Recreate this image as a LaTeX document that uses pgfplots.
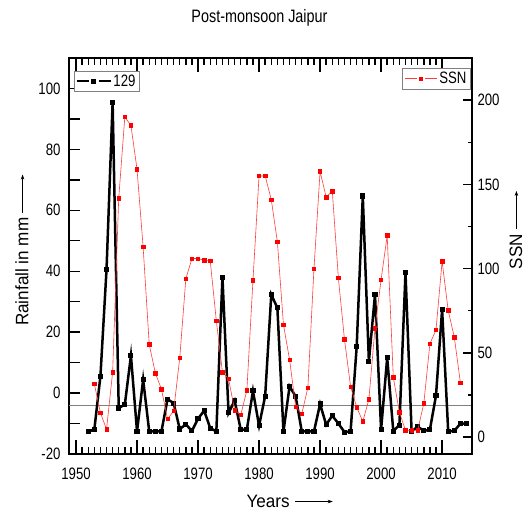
\documentclass[border=0pt]{standalone}
\usepackage{fontspec}
\setmainfont{Liberation Sans}[FakeStretch=0.8]
\newfontfamily\labelfont{Liberation Sans}[FakeStretch=0.95]
\usepackage{pgfplots}
\usepackage{pgfplotstable}
\pgfplotsset{compat=1.18}
\usetikzlibrary{arrows.meta}

% rainfall (left axis)
\pgfplotstableread{
year rain
1952 -12.6
1953 -12.0
1954 5.5
1955 40.5
1956 95.4
1957 -4.9
1958 -3.8
1959 12.3
1960 -12.6
1961 4.4
1962 -12.6
1963 -12.6
1964 -12.6
1965 -2.0
1966 -3.3
1967 -11.8
1968 -10.3
1969 -12.4
1970 -8.4
1971 -5.8
1972 -11.5
1973 -12.6
1974 38.0
1975 -6.5
1976 -2.5
1977 -12.0
1978 -12.0
1979 0.7
1980 -10.7
1981 -1.0
1982 32.3
1983 28.0
1984 -12.6
1985 2.2
1986 -1.1
1987 -12.6
1988 -12.6
1989 -12.6
1990 -3.6
1991 -10.4
1992 -7.4
1993 -10.0
1994 -12.8
1995 -12.6
1996 15.2
1997 64.7
1998 10.4
1999 32.3
2000 -12.0
2001 11.6
2002 -12.5
2003 -10.5
2004 39.5
2005 -12.6
2006 -11.0
2007 -12.4
2008 -12.0
2009 -0.8
2010 27.4
2011 -12.6
2012 -12.4
2013 -10.0
2014 -10.0
}\rain

% sunspot number (right axis)
\pgfplotstableread{
year ssn
1953 31.6
1954 14.5
1955 4.6
1956 38.5
1957 141.8
1958 190.0
1959 185.0
1960 159.0
1961 112.8
1962 55.0
1963 38.0
1964 28.5
1965 10.8
1966 15.5
1967 47.0
1968 94.0
1969 106.0
1970 106.0
1971 105.0
1972 104.5
1973 69.0
1974 38.5
1975 34.6
1976 16.0
1977 13.3
1978 27.7
1979 93.0
1980 155.0
1981 155.0
1982 141.0
1983 116.0
1984 66.7
1985 46.0
1986 18.0
1987 13.9
1988 29.3
1989 100.0
1990 157.7
1991 142.4
1992 146.0
1993 94.4
1994 58.0
1995 30.0
1996 17.8
1997 9.3
1998 22.4
1999 64.7
2000 93.4
2001 119.7
2002 35.6
2003 14.8
2004 4.0
2005 4.0
2006 4.0
2007 20.0
2008 55.4
2009 63.7
2010 104.3
2011 75.2
2012 59.3
2013 32.3
}\ssn

\definecolor{ssnline}{RGB}{255,60,60}

\newcommand{\longarrow}{\tikz[baseline=-0.6ex]\draw[-{Stealth[length=5pt,width=3.5pt]},line width=0.6pt](0,0)--(38pt,0);}

\pgfplotsset{
  common/.style={
    scale only axis, width=403pt, height=396pt,
    xmin=1948.85, xmax=2014.9,
    tick align=inside,
    axis line style={line width=1.6pt},
    every tick/.style={black, line width=1.4pt},
    tick label style={font=\fontsize{16.5}{18}\selectfont},
    label style={font=\labelfont\fontsize{18}{20}\selectfont},
    /pgf/number format/assume math mode=true,
    /pgf/number format/set thousands separator={},
    clip=false,
  }
}

\begin{document}
\begin{tikzpicture}
\begin{axis}[
  common,
  ymin=-20, ymax=110,
  ytick={-20,0,...,100}, minor y tick num=1, ytick pos=left,
  xtick={1950,1960,...,2010}, minor x tick num=9, xticklabel pos=lower,
  xtick style={/pgfplots/major tick length=14pt, /pgfplots/minor tick length=7pt},
  ytick style={/pgfplots/major tick length=11pt, /pgfplots/minor tick length=11pt},
  xticklabel style={yshift=-10pt},
  yticklabel style={xshift=-5pt},
  xlabel={Years \longarrow},
  xlabel style={at={(rel axis cs:0.548,-0.119)}, anchor=center},
  ylabel={Rainfall in mm \longarrow},
  ylabel style={at={(rel axis cs:-0.117,0.515)}, anchor=center},
  title={Post-monsoon Jaipur},
  title style={font=\fontsize{18}{20}\selectfont, xshift=-11pt, yshift=22pt},
  legend style={at={(rel axis cs:0.012,0.967)}, anchor=north west, draw=gray,
    line width=0.6pt, font=\fontsize{16.5}{18}\selectfont, inner sep=1.5pt},
  legend cell align=left,
]
\addplot[gray, line width=1pt, forget plot] coordinates {(1948.85,-4.2) (2014.9,-4.2)};
\addplot[black, line width=2.5pt, mark=square*, mark size=1.3pt,
  legend image code/.code={
    \draw[black, line width=1.8pt] (0pt,0pt) -- (12pt,0pt);
    \draw[black, line width=1.8pt] (22pt,0pt) -- (34pt,0pt);
    \fill[black] (15.5pt,-1.5pt) rectangle (18.5pt,1.5pt);
  }] table[x=year, y=rain] {\rain};
\addlegendentry{129}
\coordinate (sw) at (rel axis cs:0,0);
\coordinate (ne) at (rel axis cs:1,1);
\end{axis}
\begin{axis}[
  common,
  axis x line=none, axis y line*=right,
  ymin=-10, ymax=225,
  ytick={0,50,...,200}, minor y tick num=1, ytick pos=right,
  ytick style={/pgfplots/major tick length=9pt, /pgfplots/minor tick length=4pt},
  yticklabel style={xshift=2pt},
  ylabel={SSN \longarrow},
  ylabel style={at={(rel axis cs:1.109,0.566)}, anchor=center},
  legend style={at={(rel axis cs:0.997,0.975)}, anchor=north east, draw=gray,
    line width=0.6pt, font=\fontsize{16.5}{18}\selectfont, inner sep=2pt},
]
\addplot[ssnline, line width=0.6pt, mark=square*, mark size=1.7pt, mark options={red},
  legend image code/.code={
    \draw[ssnline, line width=0.6pt] (0pt,0pt) -- (12pt,0pt);
    \draw[ssnline, line width=0.6pt] (20pt,0pt) -- (32pt,0pt);
    \fill[red] (14.5pt,-1.6pt) rectangle (17.5pt,1.6pt);
  }] table[x=year, y=ssn] {\ssn};
\addlegendentry{SSN}
\end{axis}
\path (sw) ++(-69pt,-55pt) (ne) ++(55pt,58pt);
\end{tikzpicture}
\end{document}
